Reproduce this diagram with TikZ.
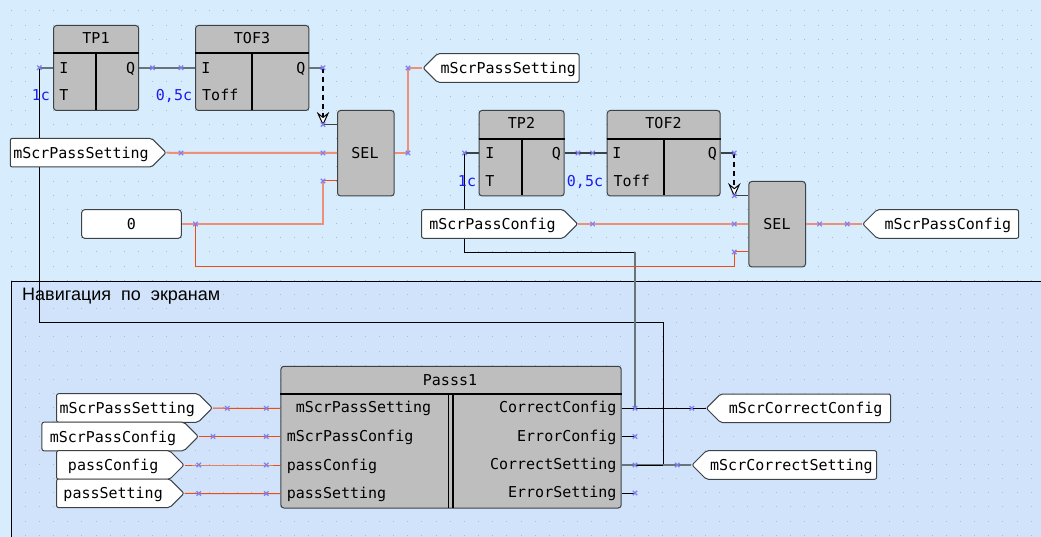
\documentclass[tikz,border=0pt]{standalone}
\usepackage{fontspec}
\setmainfont{Liberation Sans}
\newfontfamily\blockfont{DejaVu Sans Mono}
\usepackage{xcolor}
\usepackage{tikz}
\usetikzlibrary{arrows.meta}
\usetikzlibrary{shapes.symbols}

\definecolor{sheetblue}{HTML}{D7ECFC}
\definecolor{groupblue}{HTML}{D0E3FA}
\definecolor{griddot}{HTML}{AEBAC4}
\definecolor{blockgray}{HTML}{BEBEBE}
\definecolor{edgegray}{HTML}{3C4246}
\definecolor{wiregray}{HTML}{68747A}
\definecolor{wiresalmon}{HTML}{EE8F78}
\definecolor{wirered}{HTML}{F24A10}
\definecolor{pinblue}{HTML}{7F7FF4}
\definecolor{constblue}{HTML}{1C1CF0}

\tikzset{
  fblock/.style={draw=edgegray, line width=1pt, fill=blockgray, rounded corners=3pt, anchor=north west, inner sep=0pt},
  fbtext/.style={font=\blockfont\fontsize{15}{15}\selectfont, inner sep=0pt, text height=11pt, text depth=0pt},
  consttext/.style={fbtext, text=constblue},
  tagright/.style={signal, signal to=east, signal from=nowhere, signal pointer angle=90, draw=edgegray, line width=1pt, fill=white, rounded corners=2pt, inner xsep=0pt, inner ysep=0pt, minimum height=28.6pt, anchor=east, fbtext, text height=11pt},
  tagleft/.style={signal, signal to=west, signal from=nowhere, signal pointer angle=90, draw=edgegray, line width=1pt, fill=white, rounded corners=2pt, inner xsep=0pt, inner ysep=0pt, minimum height=28.6pt, anchor=west, fbtext, text height=11pt},
  sepline/.style={black, line width=2pt},
  grayline/.style={wiregray, line width=2pt},
  blackline/.style={black, line width=1pt},
  salmonline/.style={wiresalmon, line width=2pt},
  redline/.style={wirered, line width=1pt},
  pinx/.style={pinblue, line width=1.2pt},
}

\begin{document}
\begin{tikzpicture}[x=1pt, y=-1pt]
    \clip (0,0) rectangle (1041,537);
    \fill[sheetblue] (0,0) rectangle (1041,537);
    \fill[groupblue] (11.3,281.3) rectangle (1060,560);
    \foreach \i in {0,...,72}
      \foreach \j in {0,...,37}
        \fill[griddot] ({11+14.17*\i-0.5},{11+14.17*\j-0.5}) rectangle +(1,1);
    \draw[black, line width=1pt] (11.3,281.3) rectangle (1060,560);

    \coordinate (A1) at (39.3,67.7);
    \coordinate (A2) at (152.5,67.7);
    \coordinate (A3) at (181,67.7);
    \coordinate (A4) at (323,67.7);
    \coordinate (A5) at (323,124.5);
    \coordinate (A6) at (181,153);
    \coordinate (A7) at (323,153);
    \coordinate (A8) at (323,181);
    \coordinate (A9) at (195.5,224);
    \coordinate (A10) at (408,153);
    \coordinate (A11) at (408,68);

    \coordinate (B1) at (464.5,153);
    \coordinate (B2) at (578,153);
    \coordinate (B3) at (592.6,153);
    \coordinate (B4) at (734.3,153);
    \coordinate (B5) at (734.3,195.7);
    \coordinate (B6) at (592.6,224);
    \coordinate (B7) at (734.3,224);
    \coordinate (B8) at (734.3,252);
    \coordinate (B9) at (819.6,224);
    \coordinate (B10) at (847.3,224);

    \coordinate (C1) at (227.3,408.3);
    \coordinate (C2) at (266.3,408.3);
    \coordinate (C3) at (213,436.5);
    \coordinate (C4) at (266.3,436.5);
    \coordinate (C5) at (198.7,465);
    \coordinate (C6) at (266.3,465);
    \coordinate (C7) at (198.7,493.5);
    \coordinate (C8) at (266.3,493.5);

    \coordinate (D1) at (635,408.3);
    \coordinate (D2) at (691.7,408.3);
    \coordinate (D3) at (635,436.5);
    \coordinate (D4) at (635,465);
    \coordinate (D5) at (677.3,465);
    \coordinate (D6) at (663.3,465);
    \coordinate (D7) at (635,493);

    % long wires first, blocks and tags cover them
    \draw[blackline] (A1) -- (39.3,322.7) -- (663.3,322.7) -- (D6);
    \draw[blackline] (B1) -- (464.5,252.3) -- (635,252.3);
    \draw[wiregray, line width=1.5pt] (635,252.3) -- (D1);
    \draw[redline] (A9) -- (195.5,266.5) -- (734.3,266.5) -- (B8);

    \node[fblock, minimum width=85.2pt, minimum height=85pt] (TP1) at (53,25) {};
    \node[fblock, minimum width=113.4pt, minimum height=85pt] (TOF3) at (195,25) {};
    \node[fblock, minimum width=56.7pt, minimum height=85.4pt] (SEL1) at (337,110) {};
    \node[fblock, minimum width=85.2pt, minimum height=85.4pt] (TP2) at (478.5,110) {};
    \node[fblock, minimum width=113pt, minimum height=85.4pt] (TOF2) at (606.7,110) {};
    \node[fblock, minimum width=56.7pt, minimum height=85.4pt] (SEL2) at (748.3,181) {};
    \node[fblock, minimum width=340.3pt, minimum height=141.7pt] (Passs1) at (280.4,365.8) {};
    \node[draw=edgegray, line width=1pt, fill=white, rounded corners=3pt, minimum width=99.6pt, minimum height=28.6pt, inner sep=0pt, fbtext, text height=11pt] (K0) at (131.5,224) {0};

    \draw[sepline] (TP1.west |- 0,53.3) -- (TP1.east |- 0,53.3);
    \draw[sepline] (96,53.3) -- (96,110);
    \draw[sepline] (TOF3.west |- 0,53.3) -- (TOF3.east |- 0,53.3);
    \draw[sepline] (252,53.3) -- (252,110);
    \draw[sepline] (TP2.west |- 0,139) -- (TP2.east |- 0,139);
    \draw[sepline] (521.6,139) -- (521.6,195.4);
    \draw[sepline] (TOF2.west |- 0,139) -- (TOF2.east |- 0,139);
    \draw[sepline] (663.7,139) -- (663.7,195.4);
    \draw[sepline] (Passs1.west |- 0,394.3) -- (Passs1.east |- 0,394.3);
    \draw[black, line width=1pt] (448.3,394.3) -- (448.3,507.5);
    \draw[black, line width=2pt] (453.3,394.3) -- (453.3,507.5);

    \node[fbtext] (tTP1) at (96,38) {TP1};
    \node[fbtext] (tTP1i) at (64,67.7) {I};
    \node[fbtext] (tTP1t) at (64,95.5) {T};
    \node[fbtext, anchor=east] (tTP1q) at (135.3,67.7) {Q};
    \node[fbtext] (tTOF3) at (252,38) {TOF3};
    \node[fbtext] (tTOF3i) at (206,67.7) {I};
    \node[fbtext, anchor=west] (tTOF3t) at (202,95.5) {Toff};
    \node[fbtext, anchor=east] (tTOF3q) at (305.5,67.7) {Q};
    \node[fbtext] (tSEL1) at (365,152.7) {SEL};
    \node[fbtext] (tTP2) at (521.5,123.5) {TP2};
    \node[fbtext] (tTP2i) at (489.8,152.7) {I};
    \node[fbtext] (tTP2t) at (489.8,180.7) {T};
    \node[fbtext, anchor=east] (tTP2q) at (561,152.7) {Q};
    \node[fbtext] (tTOF2) at (663.5,123.5) {TOF2};
    \node[fbtext] (tTOF2i) at (617,152.7) {I};
    \node[fbtext, anchor=west] (tTOF2t) at (613.5,180.7) {Toff};
    \node[fbtext, anchor=east] (tTOF2q) at (717,152.7) {Q};
    \node[fbtext] (tSEL2) at (777,224) {SEL};

    \node[consttext] (c1s1) at (41,95.5) {1c};
    \node[consttext] (c05s1) at (174,95.5) {0,5c};
    \node[consttext] (c1s2) at (467,180.7) {1c};
    \node[consttext] (c05s2) at (585,180.7) {0,5c};

    \node[fbtext] (tPass) at (450,379.5) {Passs1};
    \node[fbtext] (tPin1) at (363.5,407.3) {mScrPassSetting};
    \node[fbtext, anchor=west] (tPin2) at (286.7,436) {mScrPassConfig};
    \node[fbtext, anchor=west] (tPin3) at (286.7,464.7) {passConfig};
    \node[fbtext, anchor=west] (tPin4) at (286.7,492.7) {passSetting};
    \node[fbtext, anchor=east] (tPout1) at (616.7,407.3) {CorrectConfig};
    \node[fbtext, anchor=east] (tPout2) at (616.7,436.3) {ErrorConfig};
    \node[fbtext, anchor=east] (tPout3) at (616.7,464.3) {CorrectSetting};
    \node[fbtext, anchor=east] (tPout4) at (616.7,492.3) {ErrorSetting};

    \node[tagright, minimum width=155.7pt] (inSet) at (166.7,152.7) {mScrPassSetting};
    \node[tagright, minimum width=156pt] (inCfg) at (578.4,224) {mScrPassConfig};
    \node[tagright, minimum width=155.7pt] (inL1) at (213,408) {mScrPassSetting};
    \node[tagright, minimum width=156.3pt] (inL2) at (199,436.5) {mScrPassConfig};
    \node[tagright, minimum width=127.4pt] (inL3) at (184.7,465) {passConfig};
    \node[tagright, minimum width=127.4pt] (inL4) at (184.7,493.3) {passSetting};
    \node[tagleft, minimum width=156pt] (outSet) at (422.4,68) {mScrPassSetting};
    \node[tagleft, minimum width=156pt] (outCfg) at (862,224) {mScrPassConfig};
    \node[tagleft, minimum width=184.3pt] (outCC) at (705.6,408.3) {mScrCorrectConfig};
    \node[tagleft, minimum width=184.6pt] (outCS) at (691.3,465) {mScrCorrectSetting};

    \node[font=\fontsize{18}{18}\selectfont, anchor=west, inner sep=0pt, text height=13pt, text depth=0pt] (navTitle) at (22,294) {Навигация\ \ по\ \ экранам};

    \draw[grayline] (A1) -- (A1 -| TP1.west);
    \draw[grayline] (A2 -| TP1.east) -- (A2) -- (A3) -- (A3 -| TOF3.west);
    \draw[grayline] (A4 -| TOF3.east) -- (A4);
    \draw[black, line width=2pt, dash pattern=on 5pt off 4pt] (A4) -- (323,117);
    \draw[black, line width=1pt, fill=white] (318,113.5) -- (323,124.5) -- (328,113.5) -- (323,117.5) -- cycle;
    \draw[edgegray, line width=1pt] (A5) -- (A5 -| SEL1.west);
    \draw[salmonline] (inSet.east) -- (A6) -- (A7) -- (A7 -| SEL1.west);
    \draw[redline] (A8) -- (A8 -| SEL1.west);
    \draw[salmonline] (K0.east) -- (A9) -- (323,224) -- (A8);
    \draw[salmonline] (A10 -| SEL1.east) -- (A10) -- (A11) -- (outSet.west);

    \draw[edgegray, line width=1.2pt] (B1) -- (B1 -| TP2.west);
    \draw[edgegray, line width=1.2pt] (B2 -| TP2.east) -- (B2) -- (B3) -- (B3 -| TOF2.west);
    \draw[edgegray, line width=1.2pt] (B4 -| TOF2.east) -- (B4);
    \draw[black, line width=2pt, dash pattern=on 5pt off 4pt] (B4) -- (734.3,188);
    \draw[black, line width=1pt, fill=white] (729.3,184.7) -- (734.3,195.7) -- (739.3,184.7) -- (734.3,188.7) -- cycle;
    \draw[edgegray, line width=1pt] (B5) -- (B5 -| SEL2.west);
    \draw[salmonline] (inCfg.east) -- (B6) -- (B7) -- (B7 -| SEL2.west);
    \draw[redline] (B8) -- (B8 -| SEL2.west);
    \draw[salmonline] (B9 -| SEL2.east) -- (B9) -- (B10) -- (outCfg.west);

    \draw[redline] (inL1.east) -- (C1) -- (C2) -- (C2 -| Passs1.west);
    \draw[redline] (inL2.east) -- (C3) -- (C4) -- (C4 -| Passs1.west);
    \draw[redline] (inL3.east) -- (C5) -- (C6) -- (C6 -| Passs1.west);
    \draw[redline] (inL4.east) -- (C7) -- (C8) -- (C8 -| Passs1.west);

    \draw[blackline] (D1 -| Passs1.east) -- (D1) -- (D2) -- (outCC.west);
    \draw[blackline] (D3 -| Passs1.east) -- (D3);
    \draw[grayline] (D4 -| Passs1.east) -- (D4) -- (D5) -- (outCS.west);
    \draw[blackline] (D4) -- (D6);
    \draw[blackline] (D7 -| Passs1.east) -- (D7);

    \foreach \p in {A1,A2,A3,A4,A5,A6,A7,A8,A9,A10,A11,B1,B2,B3,B4,B5,B6,B7,B8,B9,B10,C1,C2,C3,C4,C5,C6,C7,C8,D1,D2,D3,D4,D5,D7}
      \draw[pinx] (\p) +(-2.2,-2.2) -- +(2.2,2.2) (\p) +(-2.2,2.2) -- +(2.2,-2.2);
\end{tikzpicture}
\end{document}
